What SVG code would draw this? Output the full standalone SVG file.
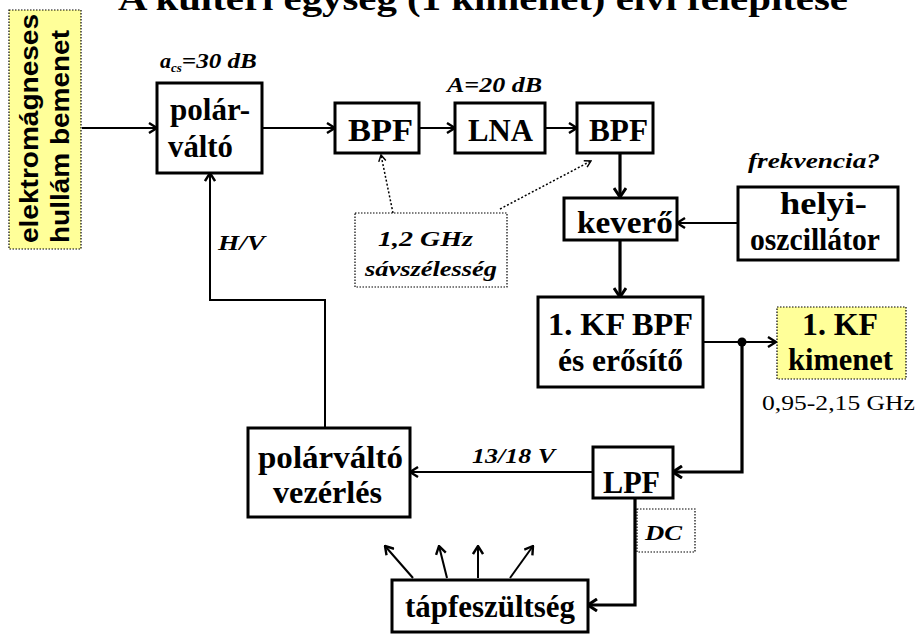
<svg xmlns="http://www.w3.org/2000/svg" width="920" height="635" viewBox="0 0 920 635">
  <style>
    .box { fill: #ffffff; stroke: #000000; stroke-width: 3; }
    .note { fill: #ffff99; stroke: #000000; stroke-width: 1.2; stroke-dasharray: 1.5 1.5; }
    .dotbox { fill: none; stroke: #000000; stroke-width: 1.2; stroke-dasharray: 1.5 1.5; }
    .lbl { font-family: 'Liberation Serif', 'DejaVu Serif', serif; font-weight: bold; font-size: 31px; fill: #000000; }
    .ital { font-family: 'Liberation Serif', 'DejaVu Serif', serif; font-weight: bold; font-style: italic; font-size: 22px; fill: #000000; }
    .sans { font-family: 'Liberation Sans', 'DejaVu Sans', sans-serif; font-weight: bold; font-size: 25px; fill: #000000; }
    .wire { fill: none; stroke: #000000; stroke-width: 2; }
    .thick { fill: none; stroke: #000000; stroke-width: 3.2; }
    .dotted { fill: none; stroke: #000000; stroke-width: 1.5; stroke-dasharray: 2 2; }
  </style>
  <defs>
    <marker id="arr" viewBox="0 0 12 12" refX="11" refY="6" markerWidth="12" markerHeight="12" markerUnits="userSpaceOnUse" orient="auto">
      <path d="M3,1 L11,6 L3,11" fill="none" stroke="#000" stroke-width="2.4"/>
    </marker>
    <marker id="arrT" viewBox="0 0 14 14" refX="13" refY="7" markerWidth="14" markerHeight="14" markerUnits="userSpaceOnUse" orient="auto">
      <path d="M4,1 L13,7 L4,13" fill="none" stroke="#000" stroke-width="3"/>
    </marker>
    <marker id="arrS" viewBox="0 0 10 10" refX="9" refY="5" markerWidth="9" markerHeight="9" markerUnits="userSpaceOnUse" orient="auto">
      <path d="M2,1 L9,5 L2,9" fill="none" stroke="#000" stroke-width="1.6"/>
    </marker>
  </defs>

  <!-- title, running off the top edge -->
  <text x="118" y="10" textLength="730" lengthAdjust="spacingAndGlyphs" font-family="Liberation Serif, DejaVu Serif, serif" font-weight="bold" font-size="34">A kültéri egység (1 kimenet) elvi felépítése</text>

  <!-- connectors -->
  <g id="connectors">
    <line class="wire" x1="82" y1="128" x2="157" y2="128" marker-end="url(#arr)"/>
    <line class="wire" x1="262" y1="128" x2="335" y2="128" marker-end="url(#arr)"/>
    <line class="wire" x1="419" y1="128" x2="455" y2="128" marker-end="url(#arr)"/>
    <line class="wire" x1="545" y1="128" x2="577" y2="128" marker-end="url(#arr)"/>
    <line class="thick" x1="620" y1="153" x2="620" y2="197" marker-end="url(#arrT)"/>
    <line class="wire" x1="738" y1="223" x2="677" y2="223" marker-end="url(#arr)"/>
    <line class="thick" x1="620" y1="240" x2="620" y2="297" marker-end="url(#arrT)"/>
    <line class="wire" x1="703" y1="342" x2="776" y2="342" marker-end="url(#arr)"/>
    <circle cx="742" cy="342" r="4.5" fill="#000"/>
    <polyline class="thick" points="742,342 742,472 673,472" marker-end="url(#arrT)"/>
    <line class="wire" x1="593" y1="472" x2="410" y2="472" marker-end="url(#arr)"/>
    <polyline class="wire" points="325,428 325,300 210,300 210,173" marker-end="url(#arr)"/>
    <polyline class="thick" points="635,498 635,605 588,605" marker-end="url(#arrT)"/>
    <line class="wire" x1="413" y1="578" x2="385" y2="546" marker-end="url(#arr)"/>
    <line class="wire" x1="447" y1="578" x2="439" y2="546" marker-end="url(#arr)"/>
    <line class="wire" x1="478" y1="578" x2="478" y2="546" marker-end="url(#arr)"/>
    <line class="wire" x1="510" y1="578" x2="533" y2="546" marker-end="url(#arr)"/>
    <line class="dotted" x1="393" y1="213" x2="381" y2="155" marker-end="url(#arrS)"/>
    <line class="dotted" x1="500" y1="209" x2="591" y2="161" marker-end="url(#arrS)"/>
  </g>

  <!-- input label, written bottom to top -->
  <g id="bemenet">
    <rect class="note" x="9" y="10" width="72" height="239"/>
    <text class="sans" transform="translate(38,243) rotate(-90)" textLength="229" lengthAdjust="spacingAndGlyphs">elektromágneses</text>
    <text class="sans" transform="translate(69,243) rotate(-90)" textLength="213" lengthAdjust="spacingAndGlyphs">hullám bemenet</text>
  </g>

  <g id="polarvalto">
    <rect class="box" x="157" y="83" width="105" height="90"/>
    <text class="lbl" x="170" y="120" textLength="80" lengthAdjust="spacingAndGlyphs">polár-</text>
    <text class="lbl" x="168" y="157" textLength="65" lengthAdjust="spacingAndGlyphs">váltó</text>
    <text class="ital" x="160" y="68">a<tspan font-size="13" dy="4">cs</tspan><tspan dy="-4" textLength="75" lengthAdjust="spacingAndGlyphs">=30 dB</tspan></text>
    <text class="ital" x="218" y="250" textLength="47" lengthAdjust="spacingAndGlyphs">H/V</text>
  </g>

  <g id="bpf1">
    <rect class="box" x="335" y="103" width="84" height="50"/>
    <text class="lbl" x="348" y="141" textLength="65" lengthAdjust="spacingAndGlyphs">BPF</text>
  </g>

  <g id="lna">
    <rect class="box" x="455" y="103" width="90" height="50"/>
    <text class="lbl" x="468" y="141" textLength="65" lengthAdjust="spacingAndGlyphs">LNA</text>
    <text class="ital" x="447" y="92" textLength="95" lengthAdjust="spacingAndGlyphs">A=20 dB</text>
  </g>

  <g id="bpf2">
    <rect class="box" x="577" y="103" width="76" height="50"/>
    <text class="lbl" x="589" y="141" textLength="59" lengthAdjust="spacingAndGlyphs">BPF</text>
  </g>

  <g id="savszelesseg">
    <rect class="dotbox" x="355" y="213" width="152" height="74"/>
    <text class="ital" x="378" y="246" textLength="95" lengthAdjust="spacingAndGlyphs">1,2 GHz</text>
    <text class="ital" x="365" y="276" textLength="132" lengthAdjust="spacingAndGlyphs">sávszélesség</text>
  </g>

  <g id="kevero">
    <rect class="box" x="564" y="198" width="113" height="42"/>
    <text class="lbl" x="577" y="233" font-size="28" textLength="96" lengthAdjust="spacingAndGlyphs">keverő</text>
  </g>

  <g id="oszcillator">
    <rect class="box" x="738" y="187" width="160" height="73"/>
    <text class="lbl" x="780" y="214" font-size="25" textLength="87" lengthAdjust="spacingAndGlyphs">helyi-</text>
    <text class="lbl" x="750" y="250" font-size="25" textLength="130" lengthAdjust="spacingAndGlyphs">oszcillátor</text>
    <text class="ital" x="748" y="168" textLength="132" lengthAdjust="spacingAndGlyphs">frekvencia?</text>
  </g>

  <g id="kf-bpf">
    <rect class="box" x="538" y="297" width="165" height="90"/>
    <text class="lbl" x="548" y="335" font-size="31" textLength="145" lengthAdjust="spacingAndGlyphs">1. KF BPF</text>
    <text class="lbl" x="558" y="371" font-size="25" textLength="125" lengthAdjust="spacingAndGlyphs">és erősítő</text>
  </g>

  <g id="kf-kimenet">
    <rect class="note" x="777" y="307" width="129" height="72"/>
    <text class="lbl" x="802" y="335" font-size="27" textLength="76" lengthAdjust="spacingAndGlyphs">1. KF</text>
    <text class="lbl" x="788" y="370" font-size="25" textLength="105" lengthAdjust="spacingAndGlyphs">kimenet</text>
    <text x="762" y="410" textLength="153" lengthAdjust="spacingAndGlyphs" font-family="Liberation Serif, DejaVu Serif, serif" font-size="21">0,95-2,15 GHz</text>
  </g>

  <g id="lpf">
    <rect class="box" x="593" y="447" width="80" height="51"/>
    <text class="lbl" x="603" y="493" font-size="34" textLength="57" lengthAdjust="spacingAndGlyphs">LPF</text>
    <text class="ital" x="472" y="463" textLength="83" lengthAdjust="spacingAndGlyphs">13/18 V</text>
  </g>

  <g id="vezerles">
    <rect class="box" x="248" y="428" width="162" height="89"/>
    <text class="lbl" x="258" y="468" font-size="29" textLength="145" lengthAdjust="spacingAndGlyphs">polárváltó</text>
    <text class="lbl" x="273" y="503" font-size="29" textLength="109" lengthAdjust="spacingAndGlyphs">vezérlés</text>
  </g>

  <g id="dc">
    <rect class="dotbox" x="637" y="509" width="58" height="43"/>
    <text class="ital" x="645" y="540" textLength="37" lengthAdjust="spacingAndGlyphs">DC</text>
  </g>

  <g id="tapfeszultseg">
    <rect class="box" x="392" y="580" width="196" height="52"/>
    <text class="lbl" x="405" y="617" font-size="30" textLength="170" lengthAdjust="spacingAndGlyphs">tápfeszültség</text>
  </g>
</svg>
